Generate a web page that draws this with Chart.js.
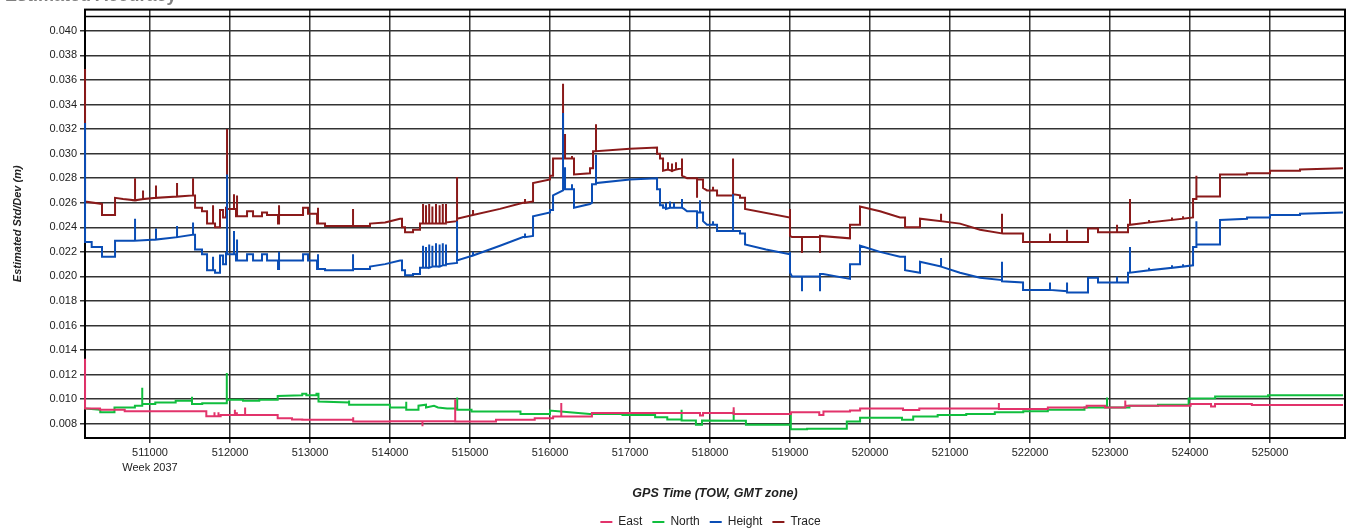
<!DOCTYPE html>
<html><head><meta charset="utf-8">
<script src="https://cdn.jsdelivr.net/npm/chart.js@4.4.1/dist/chart.umd.min.js"></script>
<style>
html,body{margin:0;padding:0;background:#fff;overflow:hidden;width:1347px;height:532px;}
#wrap{position:absolute;left:0;top:0;width:1347px;height:538px;}
#title{position:absolute;left:5px;top:-14px;font:bold 18px "Liberation Sans",Arial,sans-serif;color:#808080;line-height:18px;white-space:nowrap;}
</style></head><body>
<div id="wrap"><canvas id="c" width="1347" height="538"></canvas></div>
<div id="title">Estimated Accuracy</div>
<script>
// ---- data (GPS time of week [s], std dev [m]) ----
const seriesNames = ['East', 'North', 'Height', 'Trace'];
const xTicks = [511000,512000,513000,514000,515000,516000,517000,518000,519000,520000,521000,522000,523000,524000,525000];
const yTicks = [0.008,0.010,0.012,0.014,0.016,0.018,0.020,0.022,0.024,0.026,0.028,0.030,0.032,0.034,0.036,0.038,0.040];
const weekLabel = 'Week 2037';

const eastData = [
[510188,0.0133],[510188,0.00925],[510375,0.00925],[510375,0.00915],[510684,0.00915],[510684,0.00901],
[511704,0.00901],[511704,0.00861],[511806,0.00861],[511806,0.00893],[511806,0.00861],[511856,0.00861],[511856,0.00893],[511856,0.00861],
[511883,0.00861],[511883,0.00872],[512061,0.00872],[512061,0.00915],[512061,0.00872],[512086,0.00872],[512086,0.00893],[512086,0.00872],
[512189,0.00872],[512189,0.00933],[512189,0.00872],[512596,0.00872],[512596,0.00845],[512775,0.00845],[512775,0.00835],[512903,0.00835],[512903,0.00832],
[513540,0.00832],[513540,0.00853],[513540,0.00819],[513999,0.00819],[513999,0.00821],[514406,0.00821],[514406,0.0078],[514406,0.00821],
[514815,0.00821],[514815,0.0100],[514815,0.00819],[515325,0.00819],[515325,0.00832],[515809,0.00832],[515809,0.00845],[516039,0.00845],[516039,0.0086],
[516141,0.0086],[516141,0.0097],[516141,0.0086],[516524,0.0086],[516524,0.00888],[517875,0.00888],[517875,0.00867],[517913,0.00867],[517913,0.00888],
[518296,0.00888],[518296,0.00935],[518296,0.0088],[519010,0.0088],[519010,0.0090],[519010,0.00893],[519366,0.00893],[519366,0.00872],[519418,0.00872],[519418,0.00899],
[519750,0.00899],[519750,0.00907],[519876,0.00907],[519876,0.00925],[520413,0.00925],[520413,0.00912],[520616,0.00912],[520616,0.00925],
[521611,0.00925],[521611,0.0097],[521611,0.0092],[522223,0.0092],[522223,0.00933],[522708,0.00933],[522708,0.00947],[522938,0.00947],[522938,0.00933],
[523191,0.00933],[523191,0.0099],[523191,0.00947],[524008,0.00947],[524008,0.0096],[524263,0.0096],[524263,0.00941],[524313,0.00941],[524313,0.0096],
[524773,0.0096],[524773,0.00952],[525913,0.00952]
];

const northData = [
[510188,0.00925],[510378,0.00915],[510378,0.00893],[510556,0.00893],[510556,0.00933],[510811,0.00933],[510811,0.00947],[510903,0.00947],[510903,0.01093],[510903,0.0096],
[511066,0.0096],[511066,0.00973],[511321,0.00973],[511321,0.00987],[511525,0.00987],[511525,0.0102],[511525,0.0096],[511653,0.0096],[511653,0.00968],
[511960,0.00968],[511960,0.01213],[511960,0.00995],[512163,0.00995],[512163,0.00987],[512366,0.00987],[512366,0.00995],[512596,0.00995],[512596,0.01027],
[512903,0.01032],[512903,0.01045],[512954,0.01045],[512954,0.01032],[513081,0.01032],[513081,0.01045],[513106,0.01045],[513106,0.00981],[513489,0.00973],[513489,0.0099],[513489,0.00955],
[513999,0.00955],[513999,0.00933],[514203,0.00933],[514203,0.00979],[514203,0.00915],[514356,0.00915],[514356,0.00947],[514450,0.00955],[514450,0.00933],
[514550,0.00947],[514600,0.00933],[514713,0.00925],[514840,0.00925],[514840,0.01013],[514840,0.00915],[515019,0.00915],[515019,0.00899],
[515631,0.00899],[515631,0.0088],[516000,0.0088],[516000,0.00907],[516243,0.00893],[516498,0.0088],[516906,0.0088],[516906,0.00872],
[517314,0.00872],[517314,0.00853],[517466,0.00853],[517466,0.00835],[517645,0.00835],[517645,0.00915],[517645,0.00827],[517824,0.00827],[517824,0.00792],
[517900,0.00792],[517900,0.00827],[518296,0.00824],[518296,0.00907],[518296,0.00824],[518449,0.00824],[518449,0.00792],[519010,0.00792],[519010,0.00893],[519010,0.00755],
[519214,0.00755],[519214,0.0076],[519710,0.0076],[519710,0.00819],[519876,0.00819],[519876,0.00848],[520400,0.00848],[520400,0.00832],[520540,0.00832],[520540,0.00859],
[520846,0.00859],[520846,0.00872],[521203,0.00872],[521203,0.0088],[521560,0.0088],[521560,0.00893],[521916,0.00893],[521916,0.00901],[522223,0.00901],[522223,0.00915],
[522681,0.00915],[522681,0.00933],[522963,0.00933],[522963,0.01013],[522963,0.00933],[523243,0.00933],[523243,0.00947],[523600,0.00947],[523600,0.00955],
[523983,0.00955],[523983,0.01005],[524314,0.01008],[524314,0.01021],[524976,0.01021],[524976,0.01032],[525913,0.01032]
];

const heightData = [
[510188,0.0325],[510188,0.0228],[510271,0.0228],[510271,0.0224],[510400,0.0224],[510400,0.0216],[510563,0.0216],[510563,0.0229],
[510813,0.0229],[510813,0.0247],[510813,0.0229],[511075,0.0230],[511075,0.0239],[511075,0.0230],[511338,0.0232],[511338,0.0241],[511338,0.0232],
[511538,0.0234],[511538,0.0244],[511538,0.0234],[511563,0.0234],[511563,0.0222],[511650,0.0222],[511650,0.0218],[511713,0.0218],[511713,0.0205],
[511788,0.0205],[511788,0.0216],[511788,0.0205],[511813,0.0205],[511813,0.0203],[511875,0.0203],[511875,0.0217],[511913,0.0217],[511913,0.0210],[511950,0.0210],[511950,0.0219],
[511963,0.0219],[511963,0.0283],[511963,0.0218],[512050,0.0218],[512050,0.0237],[512050,0.0218],[512075,0.0218],[512075,0.0213],[512088,0.0213],[512088,0.0230],[512088,0.0213],
[512213,0.0213],[512213,0.0218],[512288,0.0218],[512288,0.0213],[512400,0.0213],[512400,0.0218],[512463,0.0218],[512463,0.0213],
[512600,0.0213],[512600,0.0206],[512613,0.0206],[512613,0.0220],[512613,0.0213],[512913,0.0213],[512913,0.0218],[512975,0.0218],[512975,0.0213],
[513088,0.0213],[513088,0.0206],[513100,0.0206],[513100,0.0218],[513100,0.0206],[513188,0.0206],[513188,0.0205],[513538,0.0205],[513538,0.0218],[513538,0.0206],
[513750,0.0206],[513750,0.0208],[513938,0.0210],[514125,0.0213],[514150,0.0213],[514150,0.0205],[514188,0.0205],[514188,0.0201],[514288,0.0201],[514288,0.0202],[514375,0.0202],[514375,0.0207],
[514413,0.0207],[514413,0.0225],[514413,0.0207],[514450,0.0207],[514450,0.0224],[514450,0.0207],[514490,0.0207],[514490,0.0226],[514490,0.0207],
[514530,0.0208],[514530,0.0225],[514530,0.0208],[514575,0.0208],[514575,0.0227],[514575,0.0208],[514620,0.0208],[514620,0.0226],[514620,0.0208],
[514660,0.0209],[514660,0.0227],[514660,0.0209],[514700,0.0209],[514700,0.0226],[514700,0.0210],
[514838,0.0211],[514838,0.0245],[514838,0.0213],[515038,0.0217],[515038,0.0220],[515038,0.0217],[515375,0.0225],[515663,0.0232],[515688,0.0232],[515688,0.0235],[515688,0.0232],
[515788,0.0233],[515788,0.0249],[516000,0.0252],[516000,0.0254],[516038,0.0254],[516038,0.0266],[516163,0.0270],[516163,0.0333],[516163,0.0271],
[516188,0.0271],[516188,0.0289],[516188,0.0271],[516275,0.0271],[516275,0.0275],[516275,0.0271],[516300,0.0271],[516300,0.0256],[516500,0.0259],
[516525,0.0260],[516525,0.0275],[516575,0.0275],[516575,0.0299],[516575,0.0276],[517000,0.0279],[517338,0.0280],[517338,0.0271],[517375,0.0271],[517375,0.0258],[517413,0.0258],[517413,0.0256],
[517450,0.0256],[517450,0.0260],[517450,0.0255],[517500,0.0256],[517500,0.0261],[517500,0.0256],[517550,0.0256],[517550,0.0260],[517550,0.0256],
[517650,0.0256],[517650,0.0263],[517650,0.0256],[517675,0.0255],[517713,0.0253],[517838,0.0253],[517838,0.0239],[517838,0.0252],[517875,0.0252],[517875,0.0262],[517875,0.0252],
[517913,0.0252],[517913,0.0245],[517963,0.0242],[518038,0.0242],[518038,0.0245],[518038,0.0242],[518088,0.0242],[518088,0.0237],[518288,0.0237],[518288,0.0267],[518288,0.0237],
[518375,0.0237],[518375,0.0235],[518438,0.0235],[518438,0.0226],[518700,0.0222],[519000,0.0218],[519000,0.0220],[519000,0.0203],[519025,0.0200],
[519150,0.0200],[519150,0.0188],[519150,0.0200],[519375,0.0200],[519375,0.0188],[519375,0.0202],[519413,0.0202],[519750,0.0198],[519750,0.0210],[519875,0.0210],[519875,0.0225],
[520125,0.0220],[520375,0.0216],[520438,0.0216],[520438,0.0205],[520625,0.0203],[520625,0.0212],[520888,0.0208],[520888,0.0215],[520888,0.0208],
[521125,0.0203],[521375,0.0199],[521650,0.0197],[521650,0.0212],[521650,0.0196],[521913,0.0195],[521913,0.0189],[522250,0.0189],[522250,0.0195],[522250,0.0189],
[522463,0.0188],[522463,0.0195],[522463,0.0187],[522725,0.0187],[522725,0.0199],[522850,0.0199],[522850,0.0195],[523088,0.0195],[523088,0.0200],[523088,0.0195],
[523225,0.0195],[523225,0.0203],[523250,0.0203],[523250,0.0224],[523250,0.0203],[523488,0.0205],[523488,0.0207],[523488,0.0205],[523775,0.0207],[523775,0.0209],[523775,0.0207],
[523913,0.0208],[523913,0.0210],[523913,0.0208],[524038,0.0209],[524038,0.0224],[524080,0.0224],[524080,0.0245],[524080,0.0226],[524375,0.0226],[524375,0.0246],
[524713,0.0247],[524713,0.0248],[525000,0.0248],[525000,0.0250],[525375,0.0250],[525375,0.0251],[525913,0.0252]
];

const traceData = [
[510188,0.0369],[510188,0.0261],[510400,0.0259],[510400,0.0250],[510563,0.0250],[510563,0.0264],[510663,0.0263],
[510813,0.0262],[510813,0.0280],[510813,0.0262],[510913,0.0263],[510913,0.0270],[510913,0.0263],[511075,0.0264],[511075,0.0274],[511075,0.0264],
[511338,0.0265],[511338,0.0276],[511338,0.0265],[511538,0.0266],[511538,0.0280],[511538,0.0266],[511563,0.0266],[511563,0.0256],
[511650,0.0256],[511650,0.0253],[511713,0.0253],[511713,0.0243],[511788,0.0243],[511788,0.0258],[511788,0.0243],
[511813,0.0243],[511813,0.0240],[511875,0.0240],[511875,0.0254],[511913,0.0254],[511913,0.0248],[511950,0.0248],[511950,0.0256],
[511963,0.0256],[511963,0.0320],[511963,0.0255],[512050,0.0255],[512050,0.0267],[512050,0.0255],[512075,0.0255],[512075,0.0249],[512088,0.0249],[512088,0.0266],[512088,0.0249],
[512213,0.0249],[512213,0.0253],[512288,0.0253],[512288,0.0249],[512400,0.0249],[512400,0.0252],[512463,0.0252],[512463,0.0250],
[512600,0.0250],[512600,0.0243],[512613,0.0243],[512613,0.0258],[512613,0.0250],[512913,0.0250],[512913,0.0256],[512975,0.0256],[512975,0.0251],
[513088,0.0251],[513088,0.0243],[513100,0.0243],[513100,0.0256],[513100,0.0243],[513188,0.0243],[513188,0.0241],[513538,0.0241],[513538,0.0255],[513538,0.0241],
[513750,0.0241],[513750,0.0243],[513938,0.0244],[514125,0.0247],[514150,0.0247],[514150,0.0240],[514188,0.0240],[514188,0.0236],
[514288,0.0236],[514288,0.0238],[514375,0.0238],[514375,0.0243],
[514413,0.0243],[514413,0.0259],[514413,0.0243],[514450,0.0243],[514450,0.0258],[514450,0.0243],[514490,0.0243],[514490,0.0259],[514490,0.0243],
[514530,0.0243],[514530,0.0257],[514530,0.0243],[514575,0.0243],[514575,0.0259],[514575,0.0243],[514620,0.0243],[514620,0.0258],[514620,0.0243],
[514660,0.0243],[514660,0.0259],[514660,0.0243],[514700,0.0243],[514700,0.0259],[514700,0.0244],
[514838,0.0245],[514838,0.0281],[514838,0.0247],[515038,0.0250],[515038,0.0254],[515038,0.0250],
[515375,0.0255],[515663,0.0260],[515688,0.0260],[515688,0.0263],[515688,0.0260],[515788,0.0261],[515788,0.0276],
[516000,0.0279],[516000,0.0282],[516038,0.0282],[516038,0.0296],[516163,0.0296],[516163,0.0357],[516163,0.0296],[516188,0.0296],[516188,0.0316],[516188,0.0296],
[516275,0.0296],[516275,0.0298],[516275,0.0296],[516300,0.0296],[516300,0.0283],[516500,0.0284],[516500,0.0288],[516538,0.0288],[516538,0.0302],[516575,0.0302],[516575,0.0324],[516575,0.0302],
[517000,0.0304],[517338,0.0305],[517338,0.0300],[517375,0.0300],[517375,0.0296],[517413,0.0296],[517413,0.0286],
[517475,0.0287],[517475,0.0293],[517475,0.0287],[517525,0.0286],[517525,0.0292],[517525,0.0286],[517575,0.0287],[517575,0.0293],[517575,0.0287],
[517650,0.0288],[517650,0.0296],[517650,0.0282],[517713,0.0280],[517838,0.0280],[517838,0.0264],[517838,0.0279],[517913,0.0279],[517913,0.0272],[517963,0.0270],
[518038,0.0270],[518038,0.0273],[518038,0.0270],[518088,0.0270],[518088,0.0266],[518288,0.0266],[518288,0.0296],[518288,0.0267],[518375,0.0266],[518375,0.0264],
[518438,0.0264],[518438,0.0255],[519000,0.0248],[519000,0.0255],[519000,0.0233],[519025,0.0232],[519150,0.0232],[519150,0.0219],[519150,0.0232],
[519375,0.0232],[519375,0.0219],[519375,0.0233],[519750,0.0231],[519750,0.0242],[519875,0.0242],[519875,0.0257],[520125,0.0253],[520375,0.0248],
[520438,0.0248],[520438,0.0240],[520625,0.0240],[520625,0.0247],[520888,0.0245],[520888,0.0251],[520888,0.0245],[521125,0.0243],[521375,0.0238],
[521650,0.0235],[521650,0.0251],[521650,0.0235],[521913,0.0235],[521913,0.0228],[522250,0.0228],[522250,0.0235],[522250,0.0228],
[522463,0.0228],[522463,0.0238],[522463,0.0228],[522725,0.0228],[522725,0.0239],[522850,0.0239],[522850,0.0236],[523088,0.0236],[523088,0.0242],[523088,0.0236],
[523225,0.0236],[523225,0.0242],[523250,0.0242],[523250,0.0263],[523250,0.0242],[523488,0.0244],[523488,0.0246],[523488,0.0244],[523775,0.0246],[523775,0.0248],[523775,0.0246],
[523913,0.0247],[523913,0.0249],[523913,0.0247],[524038,0.0248],[524038,0.0263],[524080,0.0263],[524080,0.0282],[524080,0.0265],
[524375,0.0265],[524375,0.0283],[524713,0.0283],[524713,0.0284],[525000,0.0284],[525000,0.0286],[525375,0.0286],[525375,0.0287],[525913,0.0288]
];

// ---- chart ----
const FONT = '"Liberation Sans", Arial, Helvetica, sans-serif';
Chart.defaults.font.family = FONT;
const seriesColors = ['#E2336B', '#10BE3E', '#0A4DB5', '#8A1A1A'];
const allData = [eastData, northData, heightData, traceData];

const datasets = seriesNames.map((name, i) => ({
  label: name,
  data: allData[i].map(p => ({x: p[0], y: p[1]})),
  borderColor: seriesColors[i],
  backgroundColor: seriesColors[i],
  borderWidth: 2,
  pointRadius: 0,
  pointHoverRadius: 0,
  tension: 0,
  fill: false,
  clip: {left: 2, right: 2, top: 0, bottom: 0}
}));

const framePlugin = {
  id: 'frame',
  beforeDatasetsDraw(chart) {
    const {ctx, chartArea: a} = chart;
    ctx.save();
    ctx.strokeStyle = '#000';
    ctx.lineWidth = 2;
    ctx.strokeRect(a.left, a.top, a.right - a.left, a.bottom - a.top);
    ctx.lineWidth = 1.5;
    ctx.beginPath();
    ctx.moveTo(a.left, a.top + 7);
    ctx.lineTo(a.right, a.top + 7);
    ctx.stroke();
    ctx.restore();
  }
};
const legendShift = {
  id: 'legendShift',
  afterLayout(chart) {
    const L = chart.legend;
    if (L) { L.left += 38; L.right += 38; }
  }
};

new Chart(document.getElementById('c'), {
  type: 'line',
  data: {datasets},
  plugins: [framePlugin, legendShift],
  options: {
    responsive: false,
    animation: false,
    devicePixelRatio: 1,
    layout: {padding: {top: 8, left: 0, right: 2, bottom: 0}},
    plugins: {
      tooltip: {enabled: false},
      title: {display: false},
      legend: {
        position: 'bottom',
        labels: {
          usePointStyle: true, pointStyle: 'line', pointStyleWidth: 12, boxHeight: 12,
          padding: 10, color: '#222', font: {family: FONT, size: 12}
        }
      }
    },
    scales: {
      x: {
        type: 'linear',
        min: 510187.5, max: 525937.5,
        afterBuildTicks: s => { s.ticks = xTicks.map(v => ({value: v})); },
        afterFit: s => { s.height = 68; },
        ticks: {
          autoSkip: false, maxRotation: 0, minRotation: 0, padding: 3, color: '#222',
          font: {family: FONT, size: 11, lineHeight: 1.35},
          callback: v => v === xTicks[0] ? [String(v), weekLabel] : String(v)
        },
        grid: {color: '#333', lineWidth: 1.5, tickLength: 5, drawTicks: true},
        border: {display: true, color: '#000', width: 2},
        title: {
          display: true, text: 'GPS Time (TOW, GMT zone)', color: '#222',
          font: {family: FONT, size: 12.5, style: 'italic', weight: 'bold'},
          padding: {top: 0, bottom: 4.5}
        }
      },
      y: {
        type: 'linear',
        min: 0.00684, max: 0.04173,
        afterBuildTicks: s => { s.ticks = yTicks.map(v => ({value: v})); },
        afterFit: s => { s.width = 85; },
        ticks: {
          autoSkip: false, padding: 3, color: '#222',
          font: {family: FONT, size: 11},
          callback: v => Number(v).toFixed(3)
        },
        grid: {color: '#333', lineWidth: 1.5, tickLength: 5, drawTicks: true},
        border: {display: true, color: '#000', width: 2},
        title: {
          display: true, text: 'Estimated Std/Dev (m)', color: '#222',
          font: {family: FONT, size: 11, style: 'italic', weight: 'bold'},
          padding: {top: 11, bottom: 0}
        }
      }
    }
  }
});
</script>
</body></html>
